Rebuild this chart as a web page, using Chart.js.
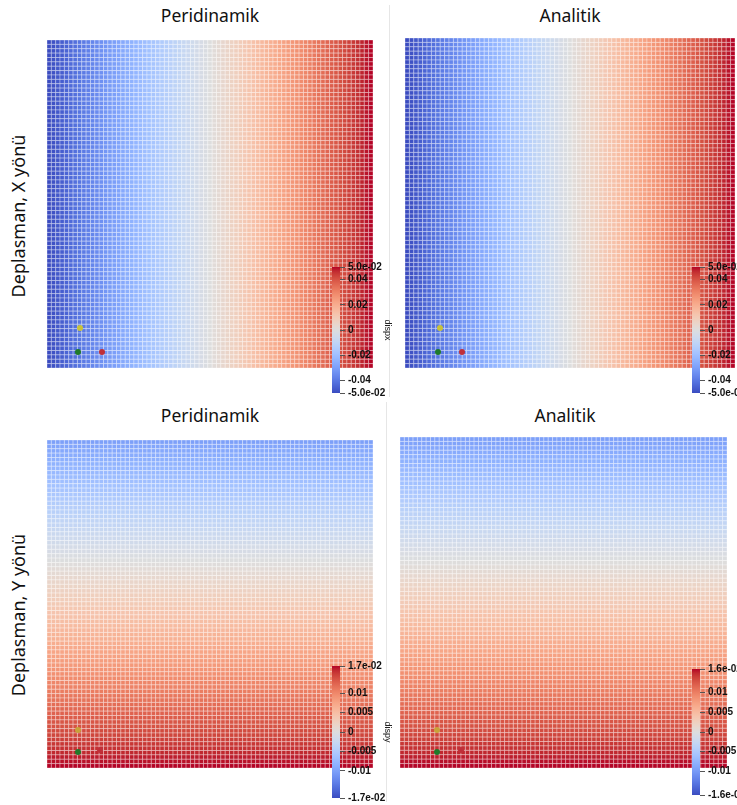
<!DOCTYPE html>
<html>
<head>
<meta charset="utf-8">
<script src="https://cdn.jsdelivr.net/npm/chart.js@4.4.1/dist/chart.umd.min.js"></script>
<style>
  body { margin: 0; background: #fff; width: 737px; height: 805px; position: relative; overflow: hidden; font-family: "Noto Sans", sans-serif; }
  canvas { position: absolute; }
  .title { position: absolute; font-size: 17.5px; line-height: 22px; color: #111; transform: translateX(-50%); white-space: nowrap; }
  .rowlabel { position: absolute; font-size: 18px; color: #111; white-space: nowrap; transform: translate(-50%, -50%) rotate(-90deg); }
  .sep { position: absolute; width: 1px; background: #e6e6e6; }
  .dot { position: absolute; width: 6px; height: 6px; border-radius: 3px; }
</style>
</head>
<body>
<div class="title" style="left:210px; top:4px;">Peridinamik</div>
<div class="title" style="left:570px; top:4px;">Analitik</div>
<div class="title" style="left:210px; top:404px;">Peridinamik</div>
<div class="title" style="left:565px; top:404px;">Analitik</div>
<div class="rowlabel" style="left:18px; top:216px;">Deplasman, X yönü</div>
<div class="rowlabel" style="left:18px; top:615px;">Deplasman, Y yönü</div>
<div class="sep" style="left:389px; top:5px; height:392px;"></div>
<div class="sep" style="left:386px; top:402px; height:400px;"></div>

<canvas id="fieldXPeri" width="326" height="328" style="left:47px; top:40px;"></canvas>
<canvas id="fieldXAnalitik" width="330" height="330" style="left:405px; top:38px;"></canvas>
<canvas id="fieldYPeri" width="326" height="328" style="left:47px; top:440px;"></canvas>
<canvas id="fieldYAnalitik" width="327" height="331" style="left:400px; top:437px;"></canvas>

<canvas id="barXPeri" width="63" height="146" style="left:332px; top:257px;"></canvas>
<canvas id="barXAnalitik" width="63" height="146" style="left:692px; top:257px;"></canvas>
<canvas id="barYPeri" width="63" height="152" style="left:332px; top:656px;"></canvas>
<canvas id="barYAnalitik" width="63" height="146" style="left:692px; top:659px;"></canvas>

<!-- small orientation axes glyphs -->
<div class="dot" style="left:75px; top:349px; background:#1f7a2a;"></div>
<div class="dot" style="left:77px; top:325px; background:#c8c23a;"></div>
<div class="dot" style="left:99px; top:349px; background:#c0303a;"></div>
<div class="dot" style="left:435px; top:349px; background:#1f7a2a;"></div>
<div class="dot" style="left:437px; top:325px; background:#c8c23a;"></div>
<div class="dot" style="left:459px; top:349px; background:#c0303a;"></div>
<div class="dot" style="left:75px; top:749px; background:#1f7a2a;"></div>
<div class="dot" style="left:75px; top:727px; background:#c8a23a;"></div>
<div class="dot" style="left:97px; top:747px; background:#c0303a;"></div>
<div class="dot" style="left:434px; top:749px; background:#1f7a2a;"></div>
<div class="dot" style="left:434px; top:727px; background:#c8a23a;"></div>
<div class="dot" style="left:458px; top:747px; background:#c0303a;"></div>

<script>
// displacement in x, one value per grid column (left -> right)
const dispxPeri = [
  -0.0500, -0.0486, -0.0473, -0.0459, -0.0446, -0.0432, -0.0419, -0.0405, -0.0392, -0.0378,
  -0.0365, -0.0351, -0.0338, -0.0324, -0.0311, -0.0297, -0.0284, -0.0270, -0.0257, -0.0243,
  -0.0230, -0.0216, -0.0203, -0.0189, -0.0176, -0.0162, -0.0149, -0.0135, -0.0122, -0.0108,
  -0.0095, -0.0081, -0.0068, -0.0054, -0.0041, -0.0027, -0.0014, 0.0000, 0.0014, 0.0027,
  0.0041, 0.0054, 0.0068, 0.0081, 0.0095, 0.0108, 0.0122, 0.0135, 0.0149, 0.0162,
  0.0176, 0.0189, 0.0203, 0.0216, 0.0230, 0.0243, 0.0257, 0.0270, 0.0284, 0.0297,
  0.0311, 0.0324, 0.0338, 0.0351, 0.0365, 0.0378, 0.0392, 0.0405, 0.0419, 0.0432,
  0.0446, 0.0459, 0.0473, 0.0486, 0.0500
];
const dispxAnalitik = [
  -0.0500, -0.0486, -0.0473, -0.0459, -0.0446, -0.0432, -0.0419, -0.0405, -0.0392, -0.0378,
  -0.0365, -0.0351, -0.0338, -0.0324, -0.0311, -0.0297, -0.0284, -0.0270, -0.0257, -0.0243,
  -0.0230, -0.0216, -0.0203, -0.0189, -0.0176, -0.0162, -0.0149, -0.0135, -0.0122, -0.0108,
  -0.0095, -0.0081, -0.0068, -0.0054, -0.0041, -0.0027, -0.0014, 0.0000, 0.0014, 0.0027,
  0.0041, 0.0054, 0.0068, 0.0081, 0.0095, 0.0108, 0.0122, 0.0135, 0.0149, 0.0162,
  0.0176, 0.0189, 0.0203, 0.0216, 0.0230, 0.0243, 0.0257, 0.0270, 0.0284, 0.0297,
  0.0311, 0.0324, 0.0338, 0.0351, 0.0365, 0.0378, 0.0392, 0.0405, 0.0419, 0.0432,
  0.0446, 0.0459, 0.0473, 0.0486, 0.0500
];
// displacement in y, one value per grid row (top -> bottom)
const dispyPeri = [
  -0.0100, -0.0096, -0.0093, -0.0089, -0.0085, -0.0082, -0.0078, -0.0074, -0.0071, -0.0067,
  -0.0064, -0.0060, -0.0056, -0.0053, -0.0049, -0.0045, -0.0042, -0.0038, -0.0034, -0.0031,
  -0.0027, -0.0023, -0.0020, -0.0016, -0.0012, -0.0009, -0.0005, -0.0001, 0.0002, 0.0006,
  0.0009, 0.0013, 0.0017, 0.0020, 0.0024, 0.0028, 0.0031, 0.0035, 0.0039, 0.0042,
  0.0046, 0.0050, 0.0053, 0.0057, 0.0061, 0.0064, 0.0068, 0.0071, 0.0075, 0.0079,
  0.0082, 0.0086, 0.0090, 0.0093, 0.0097, 0.0101, 0.0104, 0.0108, 0.0112, 0.0115,
  0.0119, 0.0123, 0.0126, 0.0130, 0.0134, 0.0137, 0.0141, 0.0144, 0.0148, 0.0152,
  0.0155, 0.0159, 0.0163, 0.0166, 0.0170
];
const dispyAnalitik = [
  -0.0095, -0.0092, -0.0088, -0.0085, -0.0081, -0.0078, -0.0074, -0.0071, -0.0067, -0.0064,
  -0.0061, -0.0057, -0.0054, -0.0050, -0.0047, -0.0043, -0.0040, -0.0036, -0.0033, -0.0030,
  -0.0026, -0.0023, -0.0019, -0.0016, -0.0012, -0.0009, -0.0005, -0.0002, 0.0001, 0.0005,
  0.0008, 0.0012, 0.0015, 0.0019, 0.0022, 0.0026, 0.0029, 0.0032, 0.0036, 0.0039,
  0.0043, 0.0046, 0.0050, 0.0053, 0.0057, 0.0060, 0.0064, 0.0067, 0.0070, 0.0074,
  0.0077, 0.0081, 0.0084, 0.0088, 0.0091, 0.0095, 0.0098, 0.0101, 0.0105, 0.0108,
  0.0112, 0.0115, 0.0119, 0.0122, 0.0126, 0.0129, 0.0132, 0.0136, 0.0139, 0.0143,
  0.0146, 0.0150, 0.0153, 0.0157, 0.0160
];

// colour bar ranges, ticks and tick labels
const rangeX = [-0.05, 0.05];
const ticksX = [-0.05, -0.04, -0.02, 0, 0.02, 0.04, 0.05];
const labelsX = ['-5.0e-02', '-0.04', '-0.02', '0', '0.02', '0.04', '5.0e-02'];
const rangeYPeri = [-0.017, 0.017];
const ticksYPeri = [-0.017, -0.01, -0.005, 0, 0.005, 0.01, 0.017];
const labelsYPeri = ['-1.7e-02', '-0.01', '-0.005', '0', '0.005', '0.01', '1.7e-02'];
const rangeYAnalitik = [-0.016, 0.016];
const ticksYAnalitik = [-0.016, -0.01, -0.005, 0, 0.005, 0.01, 0.016];
const labelsYAnalitik = ['-1.6e-02', '-0.01', '-0.005', '0', '0.005', '0.01', '1.6e-02'];

// ParaView "Cool to Warm" colour map
const coolWarm = [
  [59, 76, 192], [68, 90, 204], [77, 104, 215], [87, 117, 225], [98, 130, 234], [108, 142, 241],
  [119, 154, 247], [130, 165, 251], [141, 176, 254], [152, 185, 255], [163, 194, 255], [174, 201, 253],
  [184, 208, 249], [194, 213, 244], [204, 217, 238], [213, 219, 230], [221, 221, 221], [229, 216, 209],
  [236, 211, 197], [241, 204, 185], [245, 196, 173], [247, 187, 160], [247, 177, 148], [247, 166, 135],
  [244, 154, 123], [241, 141, 111], [236, 127, 99], [229, 112, 88], [222, 96, 77], [213, 80, 66],
  [203, 62, 56], [192, 40, 47], [180, 4, 38]
];

function colorAt(t) {
  t = Math.min(1, Math.max(0, t)) * (coolWarm.length - 1);
  const i = Math.min(Math.floor(t), coolWarm.length - 2);
  const f = t - i;
  const a = coolWarm[i], b = coolWarm[i + 1];
  return 'rgb(' + a.map((c, k) => Math.round(c + (b[k] - c) * f)).join(',') + ')';
}

function fieldPoints(values, byColumn) {
  const pts = [];
  for (let r = 0; r < values.length; r++) {
    for (let c = 0; c < values.length; c++) {
      pts.push({ x: c, y: r, v: byColumn ? values[c] : values[r] });
    }
  }
  return pts;
}

function drawField(id, values, byColumn, range) {
  const canvas = document.getElementById(id);
  const n = values.length;
  const cell = Math.max(canvas.width, canvas.height) / n;
  new Chart(canvas, {
    type: 'scatter',
    data: {
      datasets: [{
        data: fieldPoints(values, byColumn),
        pointStyle: 'rect',
        pointRadius: cell / Math.SQRT2,
        borderWidth: 1,
        borderColor: 'rgba(255,255,255,0.32)',
        backgroundColor: ctx => colorAt((ctx.raw.v - range[0]) / (range[1] - range[0]))
      }]
    },
    options: {
      responsive: false,
      animation: false,
      events: [],
      layout: { padding: 0, autoPadding: false },
      plugins: { legend: { display: false }, tooltip: { enabled: false } },
      scales: {
        x: { type: 'linear', display: false, min: -0.5, max: n - 0.5 },
        y: { type: 'linear', display: false, reverse: true, min: -0.5, max: n - 0.5 }
      }
    }
  });
}

function drawColorbar(id, range, ticks, labels, title) {
  new Chart(document.getElementById(id), {
    type: 'bar',
    data: {
      labels: [''],
      datasets: [{
        data: [range],
        barPercentage: 1,
        categoryPercentage: 1,
        borderWidth: 0,
        backgroundColor: ctx => {
          const a = ctx.chart.chartArea;
          if (!a) return '#ddd';
          const g = ctx.chart.ctx.createLinearGradient(0, a.bottom, 0, a.top);
          coolWarm.forEach((c, i) => g.addColorStop(i / (coolWarm.length - 1), 'rgb(' + c.join(',') + ')'));
          return g;
        }
      }]
    },
    options: {
      responsive: false,
      animation: false,
      events: [],
      layout: { padding: { top: 10, bottom: 10, left: 0, right: 0 } },
      plugins: { legend: { display: false }, tooltip: { enabled: false } },
      scales: {
        x: { display: false },
        y: {
          position: 'right',
          min: range[0],
          max: range[1],
          afterBuildTicks: s => { s.ticks = ticks.map(v => ({ value: v })); },
          afterFit: s => { s.width = 55; },
          border: { display: false },
          grid: { drawOnChartArea: false, tickLength: 5, color: '#555' },
          ticks: {
            autoSkip: false,
            padding: 3,
            color: '#111',
            font: { family: 'Liberation Sans Narrow, Liberation Sans', size: 10, weight: 'bold' },
            callback: v => labels[ticks.indexOf(v)]
          },
          title: {
            display: true,
            text: title,
            color: '#222',
            font: { family: 'Liberation Sans', size: 9 },
            padding: 2
          }
        }
      }
    }
  });
}

document.addEventListener('DOMContentLoaded', function() {
  drawField('fieldXPeri', dispxPeri, true, rangeX);
  drawField('fieldXAnalitik', dispxAnalitik, true, rangeX);
  drawField('fieldYPeri', dispyPeri, false, rangeYPeri);
  drawField('fieldYAnalitik', dispyAnalitik, false, rangeYAnalitik);

  drawColorbar('barXPeri', rangeX, ticksX, labelsX, 'dispx');
  drawColorbar('barXAnalitik', rangeX, ticksX, labelsX, 'dispx');
  drawColorbar('barYPeri', rangeYPeri, ticksYPeri, labelsYPeri, 'dispy');
  drawColorbar('barYAnalitik', rangeYAnalitik, ticksYAnalitik, labelsYAnalitik, 'dispy');
});
</script>
</body>
</html>
